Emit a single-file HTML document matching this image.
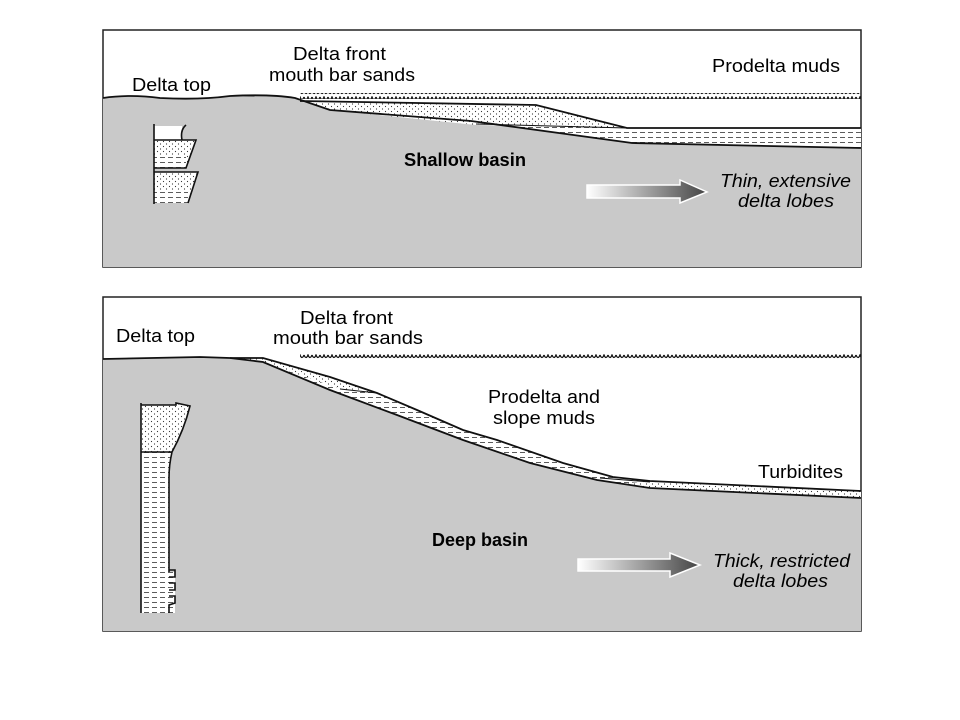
<!DOCTYPE html>
<html><head><style>body{margin:0;background:#fff}svg{display:block}</style></head><body>
<svg width="960" height="720" viewBox="0 0 960 720" xmlns="http://www.w3.org/2000/svg" font-family="Liberation Sans, sans-serif">
<defs>
<pattern id="dots" width="6" height="5" patternUnits="userSpaceOnUse"><rect width="6" height="5" fill="#fff"/><circle cx="1.5" cy="1.5" r="0.6" fill="#333"/><circle cx="4.5" cy="4" r="0.6" fill="#333"/></pattern>
<pattern id="dash" width="8" height="5" patternUnits="userSpaceOnUse"><rect width="8" height="5" fill="#fff"/><line x1="0" y1="2.5" x2="5" y2="2.5" stroke="#333" stroke-width="0.8"/></pattern>
<pattern id="wave" width="8" height="6" patternUnits="userSpaceOnUse"><path d="M0,1 Q2,6 4,1 Q6,6 8,1" fill="none" stroke="#111" stroke-width="1.3"/></pattern>
<linearGradient id="ar" x1="0" x2="1"><stop offset="0" stop-color="#fff"/><stop offset="1" stop-color="#444"/></linearGradient>
</defs>
<!-- Panel 1 -->
<rect x="103" y="30" width="758" height="237" fill="#fff" stroke="#222" stroke-width="1.5"/>
<path d="M103,98 Q130,94 160,98 Q200,100 230,96 Q270,94 295,98 L330,110 L471,121 L632,143 L861,148 L861,267 L103,267 Z" fill="#c9c9c9"/>
<rect x="300" y="93" width="561" height="6" fill="url(#wave)"/>
<path d="M295,98 L300,101 L536,105 L627,128 L861,128 L861,148 L632,143 L471,121 L330,110 Z" fill="url(#dash)"/>
<path d="M300,101 L536,105 L627,128 L476,125 L330,110 Z" fill="url(#dots)"/>
<path d="M103,98 Q130,94 160,98 Q200,100 230,96 Q270,94 295,98 L330,110 L471,121 L632,143 L861,148" fill="none" stroke="#111" stroke-width="1.8"/>
<path d="M300,101 L536,105 L627,128 L861,128" fill="none" stroke="#111" stroke-width="1.8"/>
<path d="M476,124 L627,128" fill="none" stroke="#111" stroke-width="1"/>
<!-- column 1 -->
<rect x="154" y="126" width="28" height="14" fill="#fff"/>
<path d="M154,140 L196,140 L186,168 L154,168 Z" fill="url(#dots)"/>
<rect x="154" y="155" width="32" height="13" fill="url(#dash)"/>
<path d="M154,172 L198,172 L188,203 L154,203 Z" fill="url(#dots)"/>
<rect x="154" y="190" width="34" height="13" fill="url(#dash)"/>
<path d="M154,124 L154,204 M186,125 Q180,130 182,140 L196,140 L186,168 L154,168 M154,172 L198,172 L188,203 M154,140 L196,140" fill="none" stroke="#111" stroke-width="1.6"/>
<g font-size="18">
<text x="132" y="91" textLength="79" lengthAdjust="spacingAndGlyphs">Delta top</text>
<text x="293" y="60" textLength="93" lengthAdjust="spacingAndGlyphs">Delta front</text>
<text x="269" y="81" textLength="146" lengthAdjust="spacingAndGlyphs">mouth bar sands</text>
<text x="712" y="72" textLength="128" lengthAdjust="spacingAndGlyphs">Prodelta muds</text>
<text x="404" y="166" font-weight="bold" textLength="122" lengthAdjust="spacingAndGlyphs">Shallow basin</text>
<text x="720" y="187" font-style="italic" textLength="131" lengthAdjust="spacingAndGlyphs">Thin, extensive</text>
<text x="738" y="207" font-style="italic" textLength="96" lengthAdjust="spacingAndGlyphs">delta lobes</text>
</g>
<path d="M587,185 L680,185 L680,180 L707,192 L680,203 L680,198 L587,198 Z" fill="url(#ar)" stroke="#fff" stroke-width="1.5"/>
<!-- Panel 2 -->
<rect x="103" y="297" width="758" height="334" fill="#fff" stroke="#222" stroke-width="1.5"/>
<path d="M103,359 L200,357 L230,358 L263,362 L330,390 L397,415 L463,440 L530,463 L597,480 L650,488 L861,498 L861,631 L103,631 Z" fill="#c9c9c9"/>
<rect x="300" y="353" width="561" height="6" fill="url(#wave)"/>
<path d="M230,358 L263,358 L330,377 L377,393 L417,410 L463,430 L497,440 L563,463 L613,477 L650,481 L861,491 L861,498 L650,488 L597,480 L530,463 L463,440 L397,415 L330,390 L263,362 Z" fill="url(#dash)"/>
<path d="M240,358 L263,358 L330,377 L377,393 L340,389 L263,362 Z M640,482 L650,481 L861,491 L861,498 L650,488 L620,484 Z" fill="url(#dots)"/>
<path d="M103,359 L200,357 L230,358 L263,362 L330,390 L397,415 L463,440 L530,463 L597,480 L650,488 L861,498" fill="none" stroke="#111" stroke-width="1.8"/>
<path d="M230,358 L263,358 L330,377 L377,393 L417,410 L463,430 L497,440 L563,463 L613,477 L650,481 L861,491" fill="none" stroke="#111" stroke-width="1.8"/>
<path d="M340,389 L377,393 M600,478 L650,482" fill="none" stroke="#111" stroke-width="1"/>
<!-- column 2 -->
<path d="M141,405 L176,405 L176,403 L190,406 Q184,430 172,452 L141,452 Z" fill="url(#dots)"/>
<path d="M141,452 L172,452 Q169,465 169,478 L169,572 L141,572 Z" fill="url(#dash)"/>
<rect x="141" y="572" width="34" height="41" fill="url(#dash)"/>
<path d="M141,403 L141,613 M141,405 L176,405 L176,403 L190,406 Q184,430 172,452 Q169,465 169,478 L169,572 M141,452 L172,452 M169,570 L175,570 L175,577 L169,577 M169,583 L175,583 L175,590 L169,590 M169,596 L175,596 L175,603 L169,605 L169,613" fill="none" stroke="#111" stroke-width="1.6"/>
<g font-size="18">
<text x="116" y="342" textLength="79" lengthAdjust="spacingAndGlyphs">Delta top</text>
<text x="300" y="324" textLength="93" lengthAdjust="spacingAndGlyphs">Delta front</text>
<text x="273" y="344" textLength="150" lengthAdjust="spacingAndGlyphs">mouth bar sands</text>
<text x="488" y="403" textLength="112" lengthAdjust="spacingAndGlyphs">Prodelta and</text>
<text x="493" y="424" textLength="102" lengthAdjust="spacingAndGlyphs">slope muds</text>
<text x="758" y="478" textLength="85" lengthAdjust="spacingAndGlyphs">Turbidites</text>
<text x="432" y="546" font-weight="bold" textLength="96" lengthAdjust="spacingAndGlyphs">Deep basin</text>
<text x="713" y="567" font-style="italic" textLength="137" lengthAdjust="spacingAndGlyphs">Thick, restricted</text>
<text x="733" y="587" font-style="italic" textLength="95" lengthAdjust="spacingAndGlyphs">delta lobes</text>
</g>
<path d="M578,559 L670,559 L670,553 L700,565 L670,577 L670,571 L578,571 Z" fill="url(#ar)" stroke="#fff" stroke-width="1.5"/>
</svg>
</body></html>
